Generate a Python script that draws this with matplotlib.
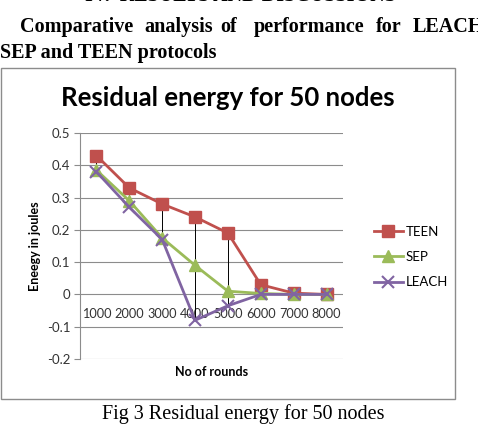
import numpy as np
import matplotlib.pyplot as plt
from matplotlib.patches import Rectangle

# --- data ---
rounds = ['1000', '2000', '3000', '4000', '5000', '6000', '7000', '8000']
teen = [0.43, 0.33, 0.28, 0.24, 0.19, 0.03, 0.004, 0.0]
sep = [0.385, 0.29, 0.175, 0.09, 0.01, 0.003, 0.0, 0.0]
leach = [0.38, 0.27, 0.17, -0.08, -0.035, 0.0, 0.0, 0.0]
yticks = [-0.2, -0.1, 0, 0.1, 0.2, 0.3, 0.4, 0.5]

W, H = 478, 426
fig = plt.figure(figsize=(W / 100, H / 100), dpi=100)
sans = 'Lato'
serif = 'Liberation Serif'

def fx(px):
    return px / W

def fy(py):
    return 1 - py / H

# --- surrounding document text ---
fig.text(fx(240), fy(1), 'IV.  RESULTS AND DISCUSSIONS', family=serif, weight='bold',
         fontsize=14.5, ha='center', va='baseline')
words = [('Comparative', 20), ('analysis', 144), ('of', 220), ('performance', 254),
         ('for', 376), ('LEACH,', 413)]
for w, x in words:
    fig.text(fx(x), fy(27), w, family=serif, weight='bold', fontsize=14.5,
             ha='left', va='center')
fig.text(fx(0), fy(53), 'SEP and TEEN protocols', family=serif, weight='bold',
         fontsize=14.5, ha='left', va='center')
fig.text(fx(243), fy(414), 'Fig 3 Residual energy for 50 nodes', family=serif,
         fontsize=14.5, ha='center', va='center')

# chart frame
fig.patches.append(Rectangle((fx(1), fy(399)), fx(454), (399 - 68) / H,
                             transform=fig.transFigure, fill=False,
                             edgecolor='#8c8c8c', linewidth=1.0))

# --- chart ---
ax = fig.add_axes([fx(80), fy(359), fx(263), (359 - 133) / H])
# category axis crosses at zero (set before tick styling, it resets ticks)
ax.spines['bottom'].set_position(('data', 0))
ax.spines['bottom'].set_color('none')
for s in ['top', 'right']:
    ax.spines[s].set_visible(False)
ax.spines['left'].set_color('#8c8c8c')

x = np.arange(len(rounds))

# high-low lines
hi = np.max([teen, sep, leach], axis=0)
lo = np.min([teen, sep, leach], axis=0)
ax.vlines(x, lo, hi, color='black', linewidth=0.7, zorder=2)

ax.plot(x, teen, color='#C0504D', marker='s', markersize=8, linewidth=2, label='TEEN', zorder=3)
ax.plot(x, sep, color='#9BBB59', marker='^', markersize=8.5, linewidth=2, label='SEP', zorder=4)
ax.plot(x, leach, color='#8064A2', marker='x', markersize=8.5, markeredgewidth=1.5,
        linewidth=2, label='LEACH', zorder=5)

ax.set_xlim(-0.5, len(rounds) - 0.5)
ax.set_ylim(-0.2, 0.5)
ax.set_yticks(yticks)
ax.set_yticklabels(['-0.2', '-0.1', '0', '0.1', '0.2', '0.3', '0.4', '0.5'],
                   family=sans, fontsize=9.5, color='#333333')
ax.set_xticks(x)
ax.set_xticklabels(rounds, family=sans, fontsize=9.2, color='#333333')
ax.tick_params(axis='x', length=0, pad=10)
ax.tick_params(axis='y', length=4, color='#8c8c8c', pad=3)
ax.grid(axis='y', color='#8c8c8c', linewidth=0.8)
ax.set_axisbelow(True)

fig.text(fx(228), fy(98), 'Residual energy for 50 nodes', family=sans, weight='bold',
         fontsize=18.5, ha='center', va='center')
fig.text(fx(212), fy(372), 'No of rounds', family=sans, weight='bold', fontsize=9,
         ha='center', va='center')
fig.text(fx(35), fy(246), 'Eneegy in joules', family=sans, weight='bold', fontsize=9,
         ha='center', va='center', rotation=90)

ax.legend(loc='center left', bbox_to_anchor=(fx(362), fy(257)), bbox_transform=fig.transFigure,
          frameon=False, prop={'family': sans, 'size': 9.5}, handlelength=2.2,
          handletextpad=0.2, labelspacing=1.0)

fig.savefig('out.png', dpi=100)
